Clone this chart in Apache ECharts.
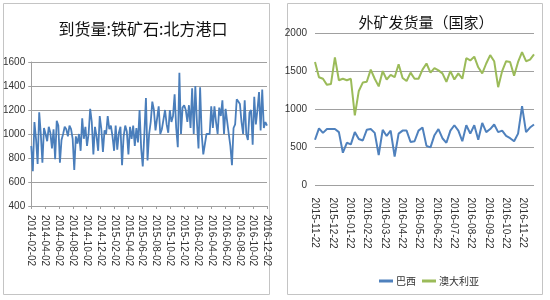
<!DOCTYPE html>
<html><head><meta charset="utf-8">
<script src="https://cdn.jsdelivr.net/npm/echarts@6/dist/echarts.min.js"></script>
<style>html,body{margin:0;padding:0;background:#fff}#c{width:550px;height:300px}</style>
</head><body><div id="c"></div>
<script>
// Left chart: 到货量:铁矿石:北方港口 (weekly)
var leftTitle = '到货量:铁矿石:北方港口';
var leftTickLabels = ['2014-02-02','2014-04-02','2014-06-02','2014-08-02','2014-10-02','2014-12-02','2015-02-02','2015-04-02','2015-06-02','2015-08-02','2015-10-02','2015-12-02','2016-02-02','2016-04-02','2016-06-02','2016-08-02','2016-10-02','2016-12-02'];
var leftValues = [
 900,690,1100,960,750,1180,1000,760,1050,
 1000,940,1060,1010,880,1040,790,1110,1070,
 760,950,1000,1060,1040,980,1070,1040,960,
 700,980,920,1000,860,1130,960,1060,900,
 1000,1210,1100,830,1060,980,860,1150,1040,
 850,1030,1000,1150,1040,1070,980,860,1070,
 870,1010,1060,740,980,1070,1020,830,1060,
 960,1070,900,1050,930,1200,880,730,1000,
 1300,780,1000,1100,1270,1200,1030,1020,1230,
 1000,1040,1050,1200,1080,1010,1200,1100,1150,
 1330,1050,890,1510,1000,1220,1240,1200,1100,
 1240,1050,1380,1000,1400,1100,880,1390,1000,
 830,840,1000,1010,1000,1230,1050,1230,1100,
 1000,1220,1150,1280,1000,1210,1200,1000,900,
 740,1050,1080,1290,1270,1250,1100,1000,1280,
 1000,950,1180,1200,910,1310,1080,1200,1350,
 1030,1370,1050,1100,1070
];
// Right chart: 外矿发货量（国家）(weekly)
var rightTitle = '外矿发货量（国家）';
var rightTickLabels = ['2015-11-22','2015-12-22','2016-01-22','2016-02-22','2016-03-22','2016-04-22','2016-05-22','2016-06-22','2016-07-22','2016-08-22','2016-09-22','2016-10-22','2016-11-22'];
var seriesNames = ['巴西','澳大利亚'];
var brazil = [600,750,690,740,740,740,700,430,560,540,700,610,590,730,740,690,400,730,650,720,380,680,720,720,570,580,720,760,520,500,660,740,620,560,720,790,720,580,790,680,790,600,820,700,740,800,700,720,650,620,580,680,1040,700,760,800];
var australia = [1620,1420,1400,1320,1330,1680,1380,1400,1380,1400,920,1240,1350,1360,1520,1400,1300,1500,1390,1450,1420,1590,1410,1370,1480,1400,1400,1520,1600,1480,1540,1510,1470,1360,1500,1390,1470,1400,1670,1640,1690,1550,1470,1600,1710,1630,1290,1500,1630,1620,1440,1620,1750,1630,1650,1720];

function weeks(start, n){
  var out=[], d=new Date(start+'T00:00:00Z');
  for(var i=0;i<n;i++){ var t=new Date(d.getTime()+i*7*86400000); out.push(t.toISOString().slice(0,10)); }
  return out;
}
var leftCats = weeks('2014-02-02', leftValues.length);
var rightCats = weeks('2015-11-22', brazil.length);
var rightSpan = (Date.parse(rightCats[rightCats.length-1]) - Date.parse('2015-11-22'))/86400000/30.5;

var labelFont = {fontFamily:'Liberation Sans', fontSize:10, color:'#333'};
var gridColor = '#a0a0a0';
function plain(v){ return String(v); }
var chart = echarts.init(document.getElementById('c'));
chart.setOption({
  animation:false,
  backgroundColor:'#fff',
  title:[
    {text:leftTitle, left:138, top:16, textAlign:'center', textStyle:{fontFamily:'Noto Sans CJK SC', fontSize:16, fontWeight:'normal', color:'#111'}},
    {text:rightTitle, left:421, top:10, textAlign:'center', textStyle:{fontFamily:'Noto Sans CJK SC', fontSize:15, fontWeight:'normal', color:'#111'}}
  ],
  graphic:[
    {type:'rect', shape:{x:3.5,y:3.5,width:266,height:291}, style:{fill:'none', stroke:'#c4c4c4', lineWidth:1}},
    {type:'rect', shape:{x:287.5,y:3.5,width:255,height:291}, style:{fill:'none', stroke:'#c4c4c4', lineWidth:1}}
  ],
  legend:{data:seriesNames, left:374, top:271, itemWidth:14, itemHeight:3, itemGap:6, icon:'rect',
    textStyle:{fontFamily:'Noto Sans CJK SC', fontSize:10, color:'#333', padding:[0,0,0,-2]}},
  grid:[
    {left:31, right:283, top:62, bottom:94},
    {left:315, right:16, top:33, bottom:114.5}
  ],
  xAxis:[
    {type:'category', gridIndex:0, data:leftCats, boundaryGap:false, show:false},
    {type:'value', gridIndex:0, position:'bottom', min:0, max:leftTickLabels.length-1, interval:1,
      axisLine:{show:true, lineStyle:{color:gridColor}}, axisTick:{show:true, length:3, lineStyle:{color:gridColor}},
      splitLine:{show:false},
      axisLabel:Object.assign({rotate:-90, margin:9, formatter:function(v){return leftTickLabels[v]||'';}}, labelFont)},
    {type:'category', gridIndex:1, data:rightCats, boundaryGap:false, show:false},
    {type:'value', gridIndex:1, position:'bottom', min:0, max:rightSpan, interval:1,
      axisLine:{show:false}, axisTick:{show:false}, splitLine:{show:false},
      axisLabel:Object.assign({rotate:-90, margin:12, showMaxLabel:false, formatter:function(v){return (Math.abs(v-Math.round(v))<1e-6 && rightTickLabels[Math.round(v)])||'';}}, labelFont)}
  ],
  yAxis:[
    {type:'value', gridIndex:0, min:400, max:1600, interval:200,
      axisLine:{show:true, lineStyle:{color:gridColor}}, axisTick:{show:true, length:3, lineStyle:{color:gridColor}},
      splitLine:{lineStyle:{color:gridColor}}, axisLabel:Object.assign({margin:6, formatter:plain}, labelFont)},
    {type:'value', gridIndex:1, min:0, max:2000, interval:500,
      axisLine:{show:false}, axisTick:{show:false},
      splitLine:{lineStyle:{color:gridColor}}, axisLabel:Object.assign({margin:8, formatter:plain}, labelFont)}
  ],
  series:[
    {type:'line', name:'到货量', xAxisIndex:0, yAxisIndex:0, data:leftValues, showSymbol:false, lineStyle:{color:'#4a7ebb', width:1.8}, itemStyle:{color:'#4a7ebb'}},
    {type:'line', name:seriesNames[0], xAxisIndex:2, yAxisIndex:1, data:brazil, showSymbol:false, lineStyle:{color:'#4f81bd', width:2}, itemStyle:{color:'#4f81bd'}},
    {type:'line', name:seriesNames[1], xAxisIndex:2, yAxisIndex:1, data:australia, showSymbol:false, lineStyle:{color:'#9bbb59', width:2}, itemStyle:{color:'#9bbb59'}}
  ]
});
</script></body></html>
